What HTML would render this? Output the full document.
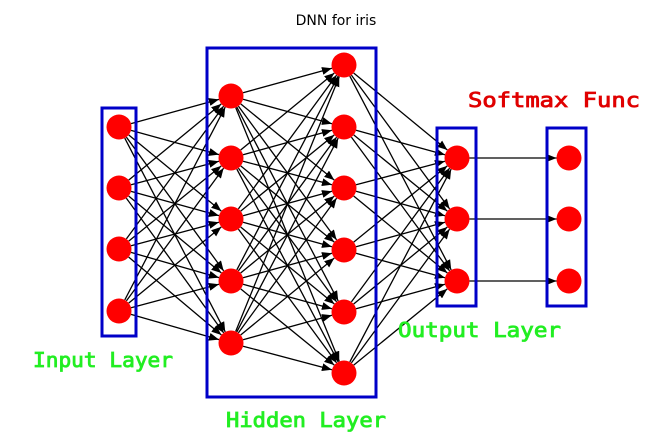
<!DOCTYPE html>
<html><head><meta charset="utf-8"><style>
html,body{margin:0;padding:0;background:#fff;width:656px;height:437px;overflow:hidden}
</style></head><body>
<svg id="s" width="656" height="437" xmlns="http://www.w3.org/2000/svg">
<defs><marker id="a" markerWidth="10" markerHeight="8" refX="10" refY="4" orient="auto" markerUnits="userSpaceOnUse"><path d="M0,0 L10,4 L0,8 z" fill="#000"/></marker></defs>
<rect x="0" y="0" width="656" height="437" fill="#fff"/>
<text x="336" y="25" font-family="DejaVu Sans, sans-serif" font-size="14" text-anchor="middle">DNN for iris</text>
<g id="lines" stroke="#000" stroke-width="1.3"></g>
<g fill="none" stroke="#0000c8" stroke-width="3">
<rect x="102" y="108" width="34" height="228"/>
<rect x="207" y="48" width="169" height="349"/>
<rect x="437" y="128" width="39" height="178"/>
<rect x="547" y="128" width="39" height="178"/>
</g>
<g id="nodes" fill="#f00"></g>
<g font-family="DejaVu Sans Mono, monospace" font-size="20" stroke-width="0.8">
<text x="468" y="107" fill="#e00000" stroke="#e00000" textLength="172" lengthAdjust="spacingAndGlyphs">Softmax Func</text>
<text x="33" y="367" fill="#22ee22" stroke="#22ee22" textLength="140" lengthAdjust="spacingAndGlyphs">Input Layer</text>
<text x="398" y="337" fill="#22ee22" stroke="#22ee22" textLength="163" lengthAdjust="spacingAndGlyphs">Output Layer</text>
<text x="226" y="427" fill="#22ee22" stroke="#22ee22" textLength="160" lengthAdjust="spacingAndGlyphs">Hidden Layer</text>
</g>
</svg>
<script>
var L=[[119,[127,188,249,311]],[231,[96,158,219,281,343]],[344,[65,127,188,250,312,373]],[457,[158,219,281]],[569,[158,219,281]]];
var r=12.5,ns="http://www.w3.org/2000/svg",lg=document.getElementById('lines'),ng=document.getElementById('nodes');
function ln(x1,y1,x2,y2){var dx=x2-x1,dy=y2-y1,d=Math.sqrt(dx*dx+dy*dy);var e=document.createElementNS(ns,'line');
e.setAttribute('x1',x1+dx/d*r);e.setAttribute('y1',y1+dy/d*r);e.setAttribute('x2',x2-dx/d*r);e.setAttribute('y2',y2-dy/d*r);e.setAttribute('marker-end','url(#a)');lg.appendChild(e);}
for(var i=0;i<3;i++){L[i][1].forEach(function(a){L[i+1][1].forEach(function(b){ln(L[i][0],a,L[i+1][0],b);});});}
for(var k=0;k<3;k++)ln(457,L[3][1][k],569,L[4][1][k]);
L.forEach(function(l){l[1].forEach(function(y){var c=document.createElementNS(ns,'circle');c.setAttribute('cx',l[0]);c.setAttribute('cy',y);c.setAttribute('r',r);ng.appendChild(c);});});
</script>
</body></html>
